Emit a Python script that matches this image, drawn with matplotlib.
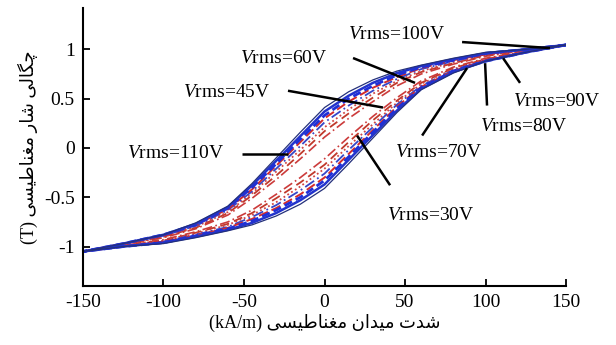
import matplotlib
matplotlib.use("Agg")
import matplotlib.pyplot as plt

plt.rcParams['axes.unicode_minus'] = False
plt.rcParams['mathtext.fontset'] = 'custom'
plt.rcParams['mathtext.rm'] = 'Liberation Serif'
plt.rcParams['mathtext.it'] = 'Liberation Serif:italic'
plt.rcParams['font.family'] = ['Liberation Serif', 'DejaVu Sans']

# ---------------- data ----------------
H = [-150, -125, -100, -80, -60, -45, -30, -15, 0, 15, 30, 45, 60, 80, 100, 125, 150]

up_110 = [-1.05, -0.97, -0.88, -0.76, -0.59, -0.36, -0.10, 0.16, 0.41, 0.57, 0.69, 0.78, 0.84, 0.91, 0.97, 1.00, 1.045]
lo_110 = [-1.05, -1.00, -0.97, -0.91, -0.84, -0.78, -0.69, -0.57, -0.41, -0.16, 0.10, 0.36, 0.59, 0.76, 0.88, 0.97, 1.045]
up_100 = [-1.05, -0.97, -0.88, -0.77, -0.60, -0.38, -0.13, 0.12, 0.37, 0.53, 0.66, 0.76, 0.83, 0.90, 0.96, 1.00, 1.045]
lo_100 = [-1.05, -1.00, -0.96, -0.90, -0.83, -0.76, -0.66, -0.53, -0.37, -0.12, 0.13, 0.38, 0.60, 0.77, 0.88, 0.97, 1.045]
up_90 = [-1.05, -0.97, -0.88, -0.78, -0.61, -0.40, -0.16, 0.09, 0.33, 0.50, 0.63, 0.74, 0.82, 0.89, 0.96, 1.00, 1.045]
lo_90 = [-1.05, -1.00, -0.96, -0.89, -0.82, -0.74, -0.63, -0.50, -0.33, -0.09, 0.16, 0.40, 0.61, 0.78, 0.88, 0.97, 1.045]
up_80 = [-1.05, -0.97, -0.89, -0.78, -0.62, -0.42, -0.18, 0.06, 0.30, 0.47, 0.61, 0.72, 0.81, 0.89, 0.95, 1.00, 1.045]
lo_80 = [-1.05, -1.00, -0.95, -0.89, -0.81, -0.72, -0.61, -0.47, -0.30, -0.06, 0.18, 0.42, 0.62, 0.78, 0.89, 0.97, 1.045]
up_70 = [-1.05, -0.97, -0.89, -0.79, -0.63, -0.44, -0.21, 0.02, 0.26, 0.43, 0.58, 0.70, 0.80, 0.88, 0.95, 1.00, 1.045]
lo_70 = [-1.05, -1.00, -0.95, -0.88, -0.80, -0.70, -0.58, -0.43, -0.26, -0.02, 0.21, 0.44, 0.63, 0.79, 0.89, 0.97, 1.045]
up_60 = [-1.05, -0.98, -0.90, -0.80, -0.65, -0.46, -0.24, -0.02, 0.21, 0.39, 0.55, 0.68, 0.78, 0.87, 0.94, 0.99, 1.045]
lo_60 = [-1.05, -0.99, -0.94, -0.87, -0.78, -0.68, -0.55, -0.39, -0.21, 0.02, 0.24, 0.46, 0.65, 0.80, 0.90, 0.98, 1.045]
up_45 = [-1.05, -0.98, -0.90, -0.81, -0.66, -0.48, -0.28, -0.06, 0.17, 0.35, 0.51, 0.66, 0.77, 0.86, 0.94, 0.99, 1.045]
lo_45 = [-1.05, -0.99, -0.94, -0.86, -0.77, -0.66, -0.51, -0.35, -0.17, 0.06, 0.28, 0.48, 0.66, 0.81, 0.90, 0.98, 1.045]
up_30 = [-1.05, -0.98, -0.91, -0.82, -0.68, -0.51, -0.32, -0.11, 0.11, 0.30, 0.47, 0.63, 0.75, 0.85, 0.93, 0.99, 1.045]
lo_30 = [-1.05, -0.99, -0.93, -0.85, -0.75, -0.63, -0.47, -0.30, -0.11, 0.11, 0.32, 0.51, 0.68, 0.82, 0.91, 0.98, 1.045]

labels = ['110V', '100V', '90V', '80V', '70V', '60V', '45V', '30V']

# annotation text anchors (H, B) and pointer segments
text_H = [-122.7, 14.6, 117.0, 96.6, 43.8, -52.5, -88.0, 38.8]
text_B = [-0.055, 1.15, 0.47, 0.217, -0.045, 0.91, 0.56, -0.68]
ptr_H0 = [-51.2, 85.4, 121.4, 100.9, 60.6, 17.7, -22.7, 40.7]
ptr_B0 = [-0.066, 1.074, 0.66, 0.43, 0.126, 0.912, 0.58, -0.378]
ptr_H1 = [-22.7, 140.0, 110.9, 99.7, 88.5, 56.2, 36.3, 20.2]
ptr_B1 = [-0.066, 1.013, 0.91, 0.86, 0.81, 0.66, 0.41, 0.126]

xticks = [-150, -100, -50, 0, 50, 100, 150]
yticks = [-1, -0.5, 0, 0.5, 1]
ytick_labels = ['-1', '-0.5', '0', '0.5', '1']

ylabel_fa = 'چگالی شار مغناطیسی'
xlabel_fa = 'شدت میدان مغناطیسی'

# ---------------- Persian shaping (presentation forms) ----------------
FORMS = {
    'ا': ('\uFE8D', '\uFE8E', None, None),
    'د': ('\uFEA9', '\uFEAA', None, None),
    'ر': ('\uFEAD', '\uFEAE', None, None),
    'ت': ('\uFE95', '\uFE96', '\uFE97', '\uFE98'),
    'ن': ('\uFEE5', '\uFEE6', '\uFEE7', '\uFEE8'),
    'م': ('\uFEE1', '\uFEE2', '\uFEE3', '\uFEE4'),
    'ل': ('\uFEDD', '\uFEDE', '\uFEDF', '\uFEE0'),
    'ش': ('\uFEB5', '\uFEB6', '\uFEB7', '\uFEB8'),
    'س': ('\uFEB1', '\uFEB2', '\uFEB3', '\uFEB4'),
    'غ': ('\uFECD', '\uFECE', '\uFECF', '\uFED0'),
    'ط': ('\uFEC1', '\uFEC2', '\uFEC3', '\uFEC4'),
    'چ': ('\uFB7A', '\uFB7B', '\uFB7C', '\uFB7D'),
    'گ': ('\uFB92', '\uFB93', '\uFB94', '\uFB95'),
    'ی': ('\uFBFC', '\uFBFD', '\uFBFE', '\uFBFF'),
}


def shape_rtl(text):
    out = []
    n = len(text)
    for i, c in enumerate(text):
        if c not in FORMS:
            out.append(c)
            continue
        f = FORMS[c]
        jp = i > 0 and text[i - 1] in FORMS and FORMS[text[i - 1]][2] is not None
        jn = f[2] is not None and i + 1 < n and text[i + 1] in FORMS
        if jp and jn:
            out.append(f[3])
        elif jp:
            out.append(f[1])
        elif jn:
            out.append(f[2])
        else:
            out.append(f[0])
    return ''.join(out[::-1])


# ---------------- plot ----------------
fig = plt.figure(figsize=(6.16, 3.45), dpi=100)
ax = fig.add_axes([0.1347, 0.171, 0.7843, 0.806])

loops = {
    '110V': (up_110, lo_110), '100V': (up_100, lo_100), '90V': (up_90, lo_90),
    '80V': (up_80, lo_80), '70V': (up_70, lo_70), '60V': (up_60, lo_60),
    '45V': (up_45, lo_45), '30V': (up_30, lo_30),
}
styles = {
    '30V': dict(color='#cc3b3b', ls=(0, (6, 2, 1, 2)), lw=1.2),
    '45V': dict(color='#c0392b', ls=(0, (5, 3)), lw=1.3),
    '60V': dict(color='#d04545', ls=(0, (1, 1.5)), lw=1.3),
    '70V': dict(color='#3546c8', ls=(0, (6, 2, 1, 2)), lw=1.3),
    '80V': dict(color='#d42a2a', ls=(0, (5, 2)), lw=1.4),
    '90V': dict(color='#1f2fd8', ls=(0, (3, 1.5)), lw=2.0),
    '100V': dict(color='#2233cc', ls='-', lw=1.8),
    '110V': dict(color='#24307a', ls='-', lw=0.9),
}
for name in ['30V', '45V', '60V', '70V', '80V', '90V', '100V', '110V']:
    up, lo = loops[name]
    xs = H[::-1] + H
    ys = up[::-1] + lo
    ax.plot(xs, ys, **styles[name])

for i, name in enumerate(labels):
    ax.plot([ptr_H0[i], ptr_H1[i]], [ptr_B0[i], ptr_B1[i]], color='black', lw=1.8,
            solid_capstyle='butt', clip_on=False)
    ax.text(text_H[i], text_B[i], r'$\mathit{V}$rms=' + name, fontsize=14,
            ha='left', va='center', family='Liberation Serif', clip_on=False)

ax.set_xlim(-150, 150)
ax.set_ylim(-1.40, 1.42)
ax.set_xticks(xticks)
ax.set_xticklabels([str(t) for t in xticks])
ax.set_yticks(yticks)
ax.set_yticklabels(ytick_labels)
ax.tick_params(direction='in', length=5, width=1.3, labelsize=14, pad=6)
for lab in ax.get_xticklabels() + ax.get_yticklabels():
    lab.set_family('Liberation Serif')
ax.spines['top'].set_visible(False)
ax.spines['right'].set_visible(False)
for s in ['left', 'bottom']:
    ax.spines[s].set_linewidth(1.5)

ax.set_xlabel('(kA/m) ' + shape_rtl(xlabel_fa), fontsize=13,
              family=['Liberation Serif', 'DejaVu Sans'], labelpad=2)
ax.set_ylabel('(T) ' + shape_rtl(ylabel_fa), fontsize=13,
              family=['Liberation Serif', 'DejaVu Sans'], labelpad=4)

fig.savefig('out.png', dpi=100)
